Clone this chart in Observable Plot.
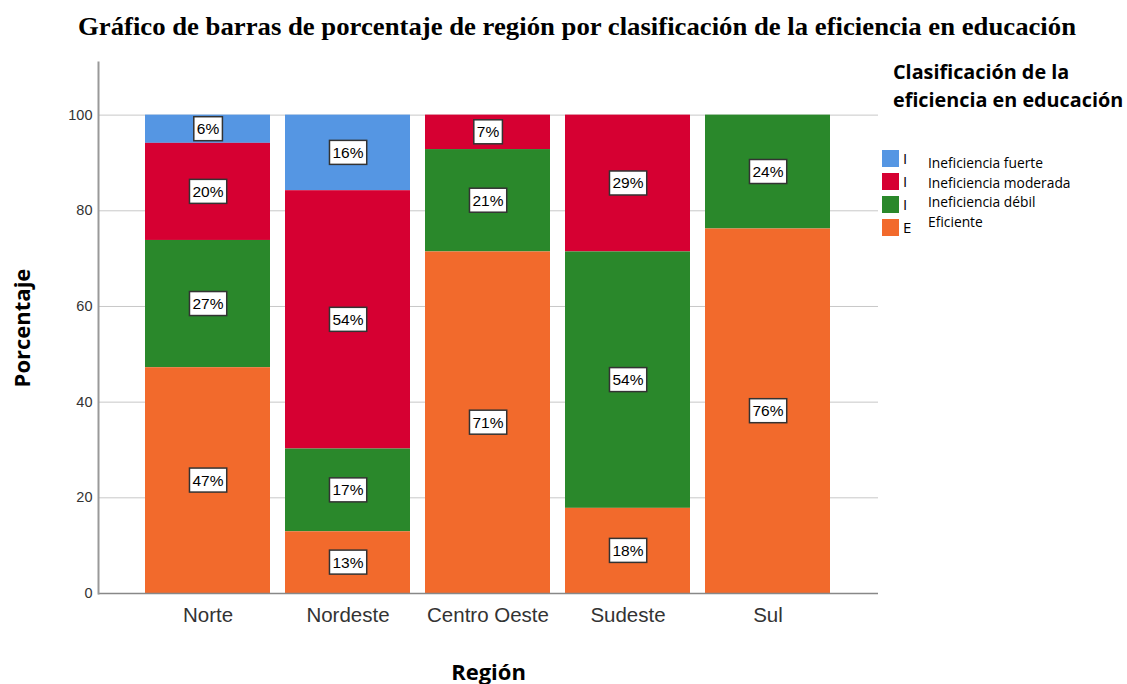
<!DOCTYPE html>
<html>
<head>
<meta charset="utf-8">
<script src="https://cdn.jsdelivr.net/npm/d3@7"></script>
<script src="https://cdn.jsdelivr.net/npm/@observablehq/plot@0.6"></script>
<style>
  html, body { margin: 0; padding: 0; background: white; }
  #wrap { position: relative; width: 1127px; height: 684px; overflow: hidden; background: white; }
  #title { position: absolute; left: 0; top: 0; }
  #chart { position: absolute; left: 0; top: 50px; }
  .legend-title { position: absolute; left: 893px; top: 58px; font: bold 19.8px "Open Sans", sans-serif; line-height: 28px; color: #000; white-space: nowrap; }
  .sw { position: absolute; left: 882px; width: 17px; height: 17px; }
  .cut { position: absolute; left: 903px; white-space: nowrap; font: 15px "Open Sans", sans-serif; line-height: 17px; color: #000; }
  .lab { position: absolute; left: 928px; font: 13.8px "Open Sans", sans-serif; line-height: 16px; color: #000; white-space: nowrap; }
</style>
</head>
<body>
<div id="wrap">
  <svg id="title" width="1127" height="50">
    <text x="577" y="35" text-anchor="middle" font-family="Liberation Serif, Times New Roman, serif" font-weight="bold" font-size="26" textLength="998" lengthAdjust="spacingAndGlyphs">Gráfico de barras de porcentaje de región por clasificación de la eficiencia en educación</text>
  </svg>
  <div id="chart"></div>
</div>
<script>
// ---- data ----
const regions = ["Norte", "Nordeste", "Centro Oeste", "Sudeste", "Sul"];
const classes = ["Ineficiencia fuerte", "Ineficiencia moderada", "Ineficiencia débil", "Eficiente"];
const classColors = ["#5596e3", "#d60032", "#2a882b", "#f26a2c"];
const eficiente = [47.2, 12.9, 71.4, 17.8, 76.2];
const debil     = [26.6, 17.3, 21.4, 53.6, 23.8];
const moderada  = [20.3, 54.0, 7.2, 28.6, 0];
const fuerte    = [5.9, 15.8, 0, 0, 0];
const yTicks = [0, 20, 40, 60, 80, 100];
const stackOrder = ["Eficiente", "Ineficiencia débil", "Ineficiencia moderada", "Ineficiencia fuerte"];

const seriesByClass = {
  "Ineficiencia fuerte": fuerte,
  "Ineficiencia moderada": moderada,
  "Ineficiencia débil": debil,
  "Eficiente": eficiente
};
const data = [];
regions.forEach((r, i) => {
  classes.forEach(c => {
    const v = seriesByClass[c][i];
    if (v > 0) data.push({region: r, cls: c, value: v});
  });
});

const chart = Plot.plot({
  width: 1127,
  height: 634,
  marginTop: 12,
  marginLeft: 98,
  marginRight: 249,
  marginBottom: 91,
  style: {fontFamily: "Liberation Sans, Arial, sans-serif", fontSize: "14.5px", color: "#333", background: "white"},
  x: {domain: regions, paddingInner: 0.106, paddingOuter: 0.32, label: "Región"},
  y: {domain: [0, 111], label: "Porcentaje"},
  color: {domain: classes, range: classColors},
  marks: [
    Plot.gridY(yTicks.slice(1), {stroke: "#c8c8c8", strokeOpacity: 1}),
    Plot.barY(data, {x: "region", y: "value", fill: "cls", order: stackOrder}),
    Plot.ruleY([0], {stroke: "#888", strokeWidth: 1.5}),
    Plot.frame({anchor: "left", stroke: "#999", strokeWidth: 2}),
    Plot.axisY(yTicks, {tickSize: 0, tickPadding: 6, label: "Porcentaje", labelAnchor: "center", labelOffset: 84}),
    Plot.axisX({tickSize: 0, tickPadding: 14, fontSize: 20.5, label: "Región", labelAnchor: "center", labelOffset: 86}),
    Plot.text(data, Plot.stackY({x: "region", y: "value", z: "cls", order: stackOrder,
      text: d => Math.round(d.value) + "%", fontSize: 15.5, fill: "black"}))
  ]
});

document.getElementById("chart").appendChild(chart);

// label boxes behind value texts
d3.select(chart).selectAll('g[aria-label="text"] text').each(function() {
  const bb = this.getBBox();
  const padX = 3, h = 24;
  d3.select(this.parentNode).insert("rect", () => this)
    .attr("transform", this.getAttribute("transform"))
    .attr("x", bb.x - padX)
    .attr("y", bb.y + bb.height / 2 - h / 2)
    .attr("width", bb.width + 2 * padX)
    .attr("height", h)
    .attr("fill", "white")
    .attr("stroke", "#333")
    .attr("stroke-width", 1.5);
});

// axis title styling (no arrows)
d3.select(chart).select('g[aria-label="y-axis label"] text').text("Porcentaje");
d3.select(chart).select('g[aria-label="x-axis label"] text').text("Región");
d3.select(chart).selectAll('g[aria-label="y-axis label"] text, g[aria-label="x-axis label"] text')
  .attr("font-family", "Open Sans, sans-serif")
  .attr("font-weight", "bold")
  .attr("font-size", 22)
  .attr("fill", "#000");

// legend (HTML)
const wrap = document.getElementById("wrap");
const lt = document.createElement("div");
lt.className = "legend-title";
lt.innerHTML = "Clasificación de la<br>eficiencia en educación";
wrap.appendChild(lt);
classes.forEach((c, i) => {
  const sw = document.createElement("div");
  sw.className = "sw";
  sw.style.top = (150 + i * 23) + "px";
  sw.style.background = classColors[i];
  wrap.appendChild(sw);
  const cut = document.createElement("div");
  cut.className = "cut";
  cut.style.top = (150 + i * 23) + "px";
  cut.textContent = c.charAt(0);
  wrap.appendChild(cut);
  const lab = document.createElement("div");
  lab.className = "lab";
  lab.style.top = (155 + i * 19.5) + "px";
  lab.textContent = c;
  wrap.appendChild(lab);
});
</script>
</body>
</html>
